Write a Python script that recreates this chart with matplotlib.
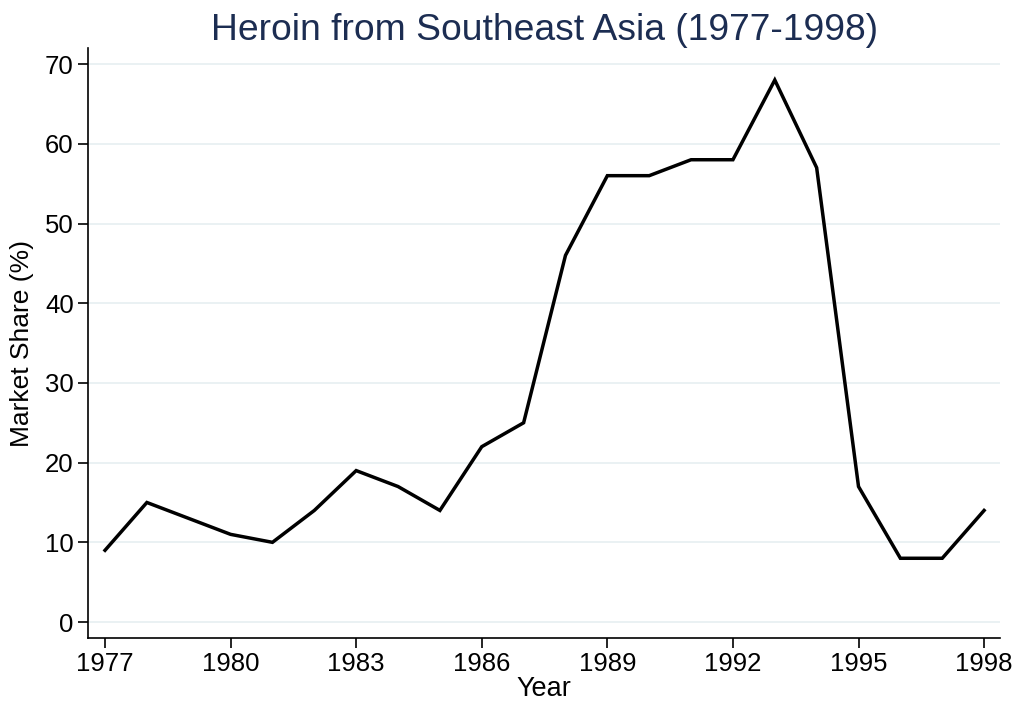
import matplotlib
matplotlib.use("Agg")
import matplotlib.pyplot as plt

years = [1977, 1978, 1979, 1980, 1981, 1982, 1983, 1984, 1985, 1986, 1987,
         1988, 1989, 1990, 1991, 1992, 1993, 1994, 1995, 1996, 1997, 1998]
share = [9, 15, 13, 11, 10, 14, 19, 17, 14, 22, 25,
         46, 56, 56, 58, 58, 68, 57, 17, 8, 8, 14]
xticks = [1977, 1980, 1983, 1986, 1989, 1992, 1995, 1998]
yticks = [0, 10, 20, 30, 40, 50, 60, 70]

plt.rcParams['font.family'] = ['Liberation Sans', 'DejaVu Sans']
fig = plt.figure(figsize=(10.14, 7.08), dpi=100)
ax = fig.add_axes([0.0868, 0.0989, 0.8994, 0.8331])
ax.plot(years, share, color='black', lw=2.5, solid_joinstyle='miter')
ax.set_xlim(1976.594, 1998.38)
ax.set_ylim(-2.0, 72.0)
ax.set_xticks(xticks)
ax.set_yticks(yticks)
ax.tick_params(labelsize=18.5, length=7.2, width=1.2, color='black', pad=3)
ax.yaxis.grid(True, color='#e6eff1', lw=1.2)
ax.set_axisbelow(True)
for s in ['top', 'right']:
    ax.spines[s].set_visible(False)
for s in ['left', 'bottom']:
    ax.spines[s].set_linewidth(1.2)
ax.set_xlabel('Year', fontsize=19.5, labelpad=0)
ax.set_ylabel('Market Share (%)', fontsize=19, labelpad=8)
ax.set_title('Heroin from Southeast Asia (1977-1998)', fontsize=26.8, color='#1c2d52', pad=4)
fig.savefig('out.png', dpi=100)
